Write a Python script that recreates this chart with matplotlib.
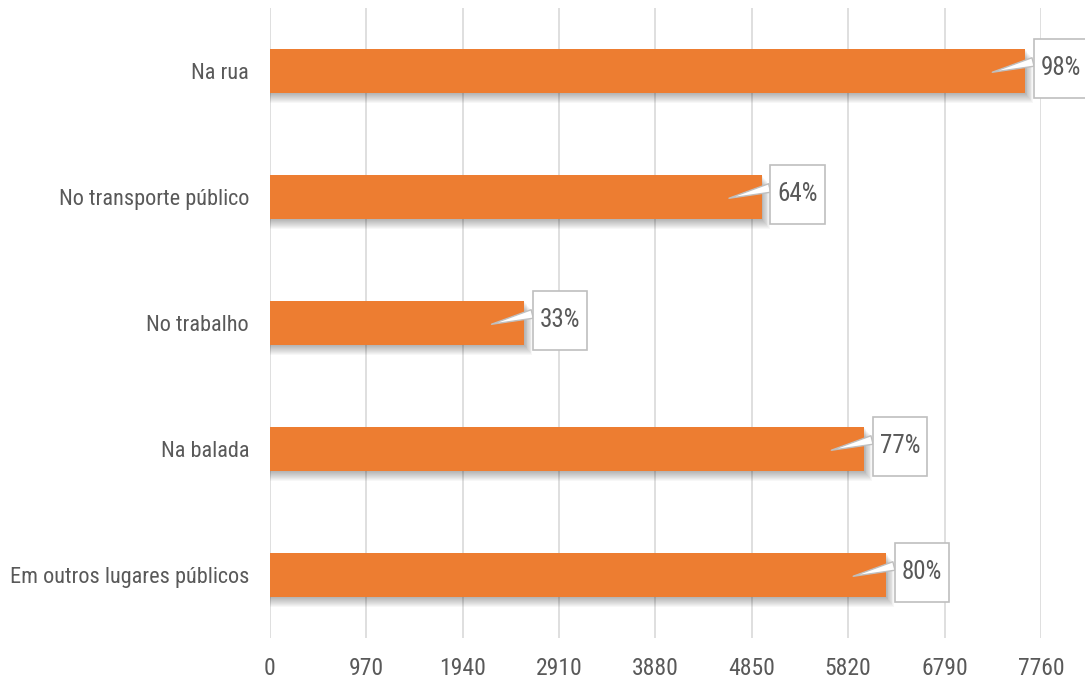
import matplotlib.pyplot as plt
from matplotlib.path import Path

# Data
categories = ['Na rua', 'No transporte público', 'No trabalho', 'Na balada',
              'Em outros lugares públicos']
values = [7600, 4950, 2560, 5980, 6200]
labels = ['98%', '64%', '33%', '77%', '80%']
xticks = [0, 970, 1940, 2910, 3880, 4850, 5820, 6790, 7760]

orange = '#ED7D31'
text_gray = '#595959'

plt.rcParams['font.family'] = ['Roboto Condensed', 'DejaVu Sans']
plt.rcParams['font.stretch'] = 'condensed'


def tall_box(x0, y0, width, height, mutation_size):
    # rectangle with more padding above/below than left/right
    px, py = 0.28 * mutation_size, 0.7 * mutation_size
    x0, y0 = x0 - px, y0 - py
    x1, y1 = x0 + width + 2 * px, y0 + height + 2 * py
    return Path([(x0, y0), (x1, y0), (x1, y1), (x0, y1), (x0, y0)], closed=True)


fig = plt.figure(figsize=(10.85, 6.94), dpi=100)
ax = fig.add_axes([0.2488, 0.0807, 0.7106, 0.9078])

ypos = list(range(len(categories)))
bar_h = 0.345

# soft drop shadow under each bar
for k in range(1, 11):
    ax.barh([y + k * 0.008 for y in ypos], [v + 8 * k for v in values],
            height=bar_h, color='black', alpha=0.03, zorder=1, linewidth=0)

ax.barh(ypos, values, height=bar_h, color=orange, zorder=2)

# callout labels: thin spike from the upper-left of the box into the bar
for y, v, lab in zip(ypos, values, labels):
    ax.annotate(lab, xy=(v - 330, y + 0.01), xytext=(v + 360, y - 0.02),
                textcoords='data', ha='center', va='center',
                fontsize=18, color=text_gray, zorder=5,
                bbox=dict(boxstyle=tall_box, fc='white',
                          ec='#BFBFBF', lw=1.2),
                arrowprops=dict(arrowstyle='wedge,tail_width=0.35',
                                fc='white', ec='#BFBFBF', lw=1.0,
                                relpos=(0.0, 0.85),
                                shrinkA=0, shrinkB=0),
                annotation_clip=False)

ax.set_xlim(0, 7760)
ax.set_ylim(4.5, -0.5)
ax.set_xticks(xticks)
ax.set_xticklabels([str(t) for t in xticks])
ax.set_yticks(ypos)
ax.set_yticklabels(categories)
ax.tick_params(axis='x', length=0, pad=14, labelsize=17, labelcolor=text_gray)
ax.tick_params(axis='y', length=0, pad=15, labelsize=16, labelcolor=text_gray)

ax.grid(axis='x', color='#D9D9D9', linewidth=1.2)
ax.set_axisbelow(True)
for s in ax.spines.values():
    s.set_visible(False)

fig.savefig('out.png', dpi=100)
